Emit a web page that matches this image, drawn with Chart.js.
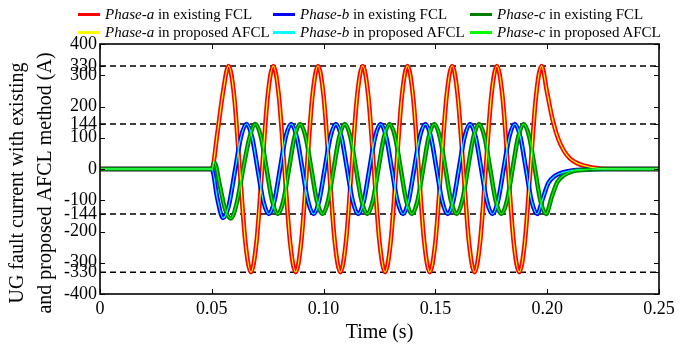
<!DOCTYPE html>
<html>
<head>
<meta charset="utf-8">
<title>UG fault current</title>
<script src="https://cdn.jsdelivr.net/npm/chart.js@4.4.1/dist/chart.umd.min.js"></script>
<style>
  html, body { margin: 0; padding: 0; background: #fff; }
  #wrap { position: relative; width: 681px; height: 344px; }
  #legend { position: absolute; left: 0; top: 0; width: 681px; height: 42px;
            font-family: 'Liberation Serif', 'Times New Roman', serif; font-size: 15px; color: #000; }
  .item { position: absolute; white-space: nowrap; line-height: 18px; }
  .sw { display: inline-block; width: 22px; height: 3px; vertical-align: middle; margin-right: 5px; position: relative; top: -1px; }
</style>
</head>
<body>
<div id="wrap">
  <canvas id="myChart" width="681" height="344"></canvas>
  <div id="legend"></div>
</div>
<script>
// axis ticks
const xTickValues = [0, 0.05, 0.10, 0.15, 0.20, 0.25];
const xTickLabels = ['0', '0.05', '0.10', '0.15', '0.20', '0.25'];
const yTickValues = [-400, -330, -300, -200, -144, -100, 0, 100, 144, 200, 300, 330, 400];
const yTickLabels = ['-400', '-330', '-300', '-200', '-144', '-100', '0', '100', '144', '200', '300', '330', '400'];
const limitLevels = [330, 144, -144, -330];

const phaseNames = ['Phase-a', 'Phase-b', 'Phase-c'];
const methodNames = ['in existing FCL', 'in proposed AFCL'];

// phase-a (s, A)
const phaseATime = [0, 0.05, 0.0525, 0.055,
  0.0575, 0.06, 0.0625, 0.065, 0.0675, 0.07, 0.0725, 0.075,
  0.0775, 0.08, 0.0825, 0.085, 0.0875, 0.09, 0.0925, 0.095,
  0.0975, 0.1, 0.1025, 0.105, 0.1075, 0.11, 0.1125, 0.115,
  0.1175, 0.12, 0.1225, 0.125, 0.1275, 0.13, 0.1325, 0.135,
  0.1375, 0.14, 0.1425, 0.145, 0.1475, 0.15, 0.1525, 0.155,
  0.1575, 0.16, 0.1625, 0.165, 0.1675, 0.17, 0.1725, 0.175,
  0.1775, 0.18, 0.1825, 0.185, 0.1875, 0.19, 0.1925, 0.195,
  0.1975, 0.2, 0.2025, 0.205, 0.2075, 0.21, 0.2135, 0.218, 0.225, 0.25];
const phaseAValues = [0, 0, 115, 245,
  330, 233, 0, -233, -330, -233, 0, 233,
  330, 233, 0, -233, -330, -233, 0, 233,
  330, 233, 0, -233, -330, -233, 0, 233,
  330, 233, 0, -233, -330, -233, 0, 233,
  330, 233, 0, -233, -330, -233, 0, 233,
  330, 233, 0, -233, -330, -233, 0, 233,
  330, 233, 0, -233, -330, -233, 0, 233,
  330, 243, 155, 95, 58, 35, 18, 8, 1, 0];

// phase-b
const phaseBTime = [0, 0.05, 0.0525, 0.055, 0.0575, 0.0605, 0.063,
  0.0655, 0.068, 0.0705, 0.073, 0.0755, 0.078, 0.0805, 0.083,
  0.0855, 0.088, 0.0905, 0.093, 0.0955, 0.098, 0.1005, 0.103,
  0.1055, 0.108, 0.1105, 0.113, 0.1155, 0.118, 0.1205, 0.123,
  0.1255, 0.128, 0.1305, 0.133, 0.1355, 0.138, 0.1405, 0.143,
  0.1455, 0.148, 0.1505, 0.153, 0.1555, 0.158, 0.1605, 0.163,
  0.1655, 0.168, 0.1705, 0.173, 0.1755, 0.178, 0.1805, 0.183,
  0.1855, 0.188, 0.1905, 0.193, 0.1955,
  0.198, 0.2005, 0.2035, 0.207, 0.212, 0.22, 0.23, 0.25];
const phaseBValues = [0, 0, -95, -157, -120, 0, 102,
  144, 102, 0, -102, -144, -102, 0, 102,
  144, 102, 0, -102, -144, -102, 0, 102,
  144, 102, 0, -102, -144, -102, 0, 102,
  144, 102, 0, -102, -144, -102, 0, 102,
  144, 102, 0, -102, -144, -102, 0, 102,
  144, 102, 0, -102, -144, -102, 0, 102,
  144, 102, 0, -102, -144,
  -95, -45, -22, -11, -4, -1, 0, 0];

// phase-c
const phaseCTime = [0, 0.05, 0.0512, 0.0535, 0.056, 0.0585, 0.0612, 0.064, 0.067,
  0.0695, 0.072, 0.0745, 0.077, 0.0795, 0.082, 0.0845, 0.087,
  0.0895, 0.092, 0.0945, 0.097, 0.0995, 0.102, 0.1045, 0.107,
  0.1095, 0.112, 0.1145, 0.117, 0.1195, 0.122, 0.1245, 0.127,
  0.1295, 0.132, 0.1345, 0.137, 0.1395, 0.142, 0.1445, 0.147,
  0.1495, 0.152, 0.1545, 0.157, 0.1595, 0.162, 0.1645, 0.167,
  0.1695, 0.172, 0.1745, 0.177, 0.1795, 0.182, 0.1845, 0.187,
  0.1895, 0.192, 0.1945, 0.197, 0.1995,
  0.202, 0.2045, 0.2075, 0.211, 0.216, 0.225, 0.25];
const phaseCValues = [0, 0, 20, -50, -130, -158, -108, 0, 104,
  144, 102, 0, -102, -144, -102, 0, 102,
  144, 102, 0, -102, -144, -102, 0, 102,
  144, 102, 0, -102, -144, -102, 0, 102,
  144, 102, 0, -102, -144, -102, 0, 102,
  144, 102, 0, -102, -144, -102, 0, 102,
  144, 102, 0, -102, -144, -102, 0, 102,
  144, 102, 0, -102, -144,
  -90, -42, -20, -8, -3, 0, 0];

const existingColors = ['#ff0000', '#0000ff', '#008000'];
const proposedColors = ['#ffff00', '#00ffff', '#00ff00'];

function pts(t, v) {
  return t.map((x, i) => ({ x: x, y: v[i] }));
}

const phases = [pts(phaseATime, phaseAValues), pts(phaseBTime, phaseBValues), pts(phaseCTime, phaseCValues)];

const datasets = [];
limitLevels.forEach(lv => {
  datasets.push({
    data: [{ x: 0, y: lv }, { x: 0.25, y: lv }],
    borderColor: '#000', borderWidth: 1.5, borderDash: [6, 4],
    pointRadius: 0, order: 10
  });
});
phases.forEach((d, i) => {
  datasets.push({
    label: phaseNames[i] + ' ' + methodNames[0],
    data: d, borderColor: existingColors[i], borderWidth: 4.5,
    pointRadius: 0, cubicInterpolationMode: 'monotone', order: 9 - i
  });
});
phases.forEach((d, i) => {
  datasets.push({
    label: phaseNames[i] + ' ' + methodNames[1],
    data: d, borderColor: proposedColors[i], borderWidth: 1.2,
    pointRadius: 0, cubicInterpolationMode: 'monotone', order: 3 - i
  });
});

// html legend (italic phase names)
const legend = document.getElementById('legend');
const colX = [78, 273, 470];
const rowY = [5, 23];
[existingColors, proposedColors].forEach((cols, r) => {
  cols.forEach((c, i) => {
    const el = document.createElement('div');
    el.className = 'item';
    el.style.left = colX[i] + 'px';
    el.style.top = rowY[r] + 'px';
    el.innerHTML = '<span class="sw" style="background:' + c + '"></span><i>' + phaseNames[i] + '</i> ' + methodNames[r];
    legend.appendChild(el);
  });
});

const serif = "'Liberation Serif', 'Times New Roman', serif";

const frame = {
  id: 'frame',
  afterDatasetsDraw(chart) {
    const { ctx, chartArea: a, scales: { x, y } } = chart;
    ctx.save();
    ctx.strokeStyle = '#000';
    ctx.lineWidth = 1;
    ctx.beginPath();
    xTickValues.forEach(v => {
      const px = Math.round(x.getPixelForValue(v)) + 0.5;
      ctx.moveTo(px, a.bottom); ctx.lineTo(px, a.bottom - 5);
      ctx.moveTo(px, a.top); ctx.lineTo(px, a.top + 5);
    });
    yTickValues.forEach(v => {
      const py = Math.round(y.getPixelForValue(v)) + 0.5;
      ctx.moveTo(a.left, py); ctx.lineTo(a.left + 5, py);
      ctx.moveTo(a.right, py); ctx.lineTo(a.right - 5, py);
    });
    ctx.stroke();
    ctx.lineWidth = 1.6;
    ctx.strokeRect(a.left, a.top, a.width, a.height);
    // y axis title, two lines
    ctx.fillStyle = '#000';
    ctx.font = '20px ' + serif;
    ctx.textAlign = 'center';
    ctx.textBaseline = 'middle';
    ctx.translate(18, 183);
    ctx.rotate(-Math.PI / 2);
    ctx.fillText('UG fault current with existing', 0, 0);
    ctx.fillText('and proposed AFCL method (A)', 0, 28);
    ctx.restore();
  }
};

Chart.defaults.color = '#000';
Chart.defaults.font.family = serif;

new Chart(document.getElementById('myChart'), {
  type: 'line',
  data: { datasets: datasets },
  options: {
    responsive: false,
    animation: false,
    layout: { padding: { top: 44, right: 22, left: 0, bottom: 0 } },
    plugins: { legend: { display: false }, tooltip: { enabled: false } },
    scales: {
      x: {
        type: 'linear', min: 0, max: 0.25,
        grid: { display: false, drawTicks: false },
        border: { display: false },
        afterBuildTicks: s => { s.ticks = xTickValues.map(v => ({ value: v })); },
        afterFit: s => { s.height = 50; },
        ticks: {
          autoSkip: false, maxRotation: 0, padding: 4,
          font: { size: 18 },
          callback: (v, i) => xTickLabels[i]
        },
        title: { display: true, text: 'Time (s)', font: { size: 20, lineHeight: 1 }, padding: { top: 0, bottom: 1 } }
      },
      y: {
        min: -400, max: 400,
        grid: { display: false, drawTicks: false },
        border: { display: false },
        afterBuildTicks: s => { s.ticks = yTickValues.map(v => ({ value: v })); },
        afterFit: s => { s.width = 100; },
        ticks: {
          autoSkip: false, padding: 3,
          font: { size: 18 },
          callback: (v, i) => yTickLabels[i]
        }
      }
    }
  },
  plugins: [frame]
});
</script>
</body>
</html>
